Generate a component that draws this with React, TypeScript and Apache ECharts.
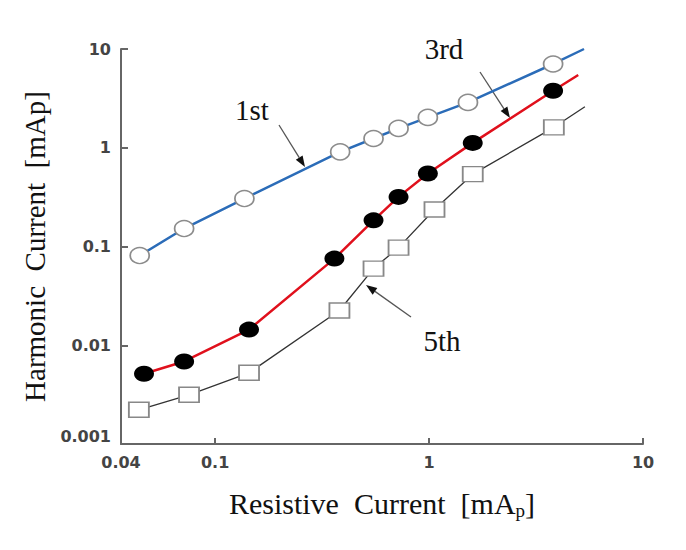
import React, { useEffect, useRef } from 'react';
import * as echarts from 'echarts';

// values
const x1st = [0.0444, 0.0716, 0.137, 0.384, 0.55, 0.72, 0.987, 1.52, 3.8, 5.3];
const y1st = [0.081, 0.152, 0.306, 0.909, 1.24, 1.57, 2.03, 2.88, 7.05, 10];
const x3rd = [0.0465, 0.0716, 0.144, 0.361, 0.55, 0.72, 0.987, 1.6, 3.8, 4.98];
const y3rd = [0.00514, 0.00685, 0.0144, 0.0754, 0.184, 0.318, 0.549, 1.12, 3.78, 5.45];
const x5th = [0.044, 0.0755, 0.144, 0.381, 0.55, 0.72, 1.06, 1.6, 3.83, 5.35];
const y5th = [0.00222, 0.00315, 0.00526, 0.0225, 0.0597, 0.0975, 0.237, 0.54, 1.61, 2.6];

const xMin = 0.0363;
const xMax = 10;
const yMin = 0.001;
const yMax = 10;

// last point of every curve is just the line end, no marker
const pairs = (xs: number[], ys: number[]) =>
  xs.map((x, i) => (i === xs.length - 1 ? { value: [x, ys[i]], symbol: 'none' } : [x, ys[i]]));

const arrow = (x1: number, y1: number, x2: number, y2: number) => {
  const dx = x2 - x1;
  const dy = y2 - y1;
  const len = Math.hypot(dx, dy);
  const ux = dx / len;
  const uy = dy / len;
  const bx = x2 - ux * 11;
  const by = y2 - uy * 11;
  const px = -uy * 4;
  const py = ux * 4;
  return [
    { type: 'line', shape: { x1, y1, x2: bx, y2: by }, style: { stroke: '#555', lineWidth: 1.3 } },
    {
      type: 'polygon',
      shape: { points: [[x2, y2], [bx + px, by + py], [bx - px, by - py]] },
      style: { fill: '#111' },
    },
  ];
};

const serif = '"Liberation Serif", "Times New Roman", serif';

const App: React.FC = () => {
  const ref = useRef<HTMLDivElement>(null);

  useEffect(() => {
    if (!ref.current) return;
    const chart = echarts.init(ref.current, undefined, { renderer: 'svg' });

    const tickLabel = {
      fontFamily: '"DejaVu Sans", sans-serif',
      fontWeight: 'bold' as const,
      fontSize: 16,
      color: '#444',
    };
    const axisLine = { show: true, lineStyle: { color: '#666', width: 2 } };

    chart.setOption({
      animation: false,
      backgroundColor: '#fff',
      grid: { left: 121, right: 43, top: 49, bottom: 106 },
      xAxis: {
        type: 'log',
        logBase: 10,
        min: xMin,
        max: xMax,
        axisLine,
        axisTick: { show: true, inside: true, length: 6, lineStyle: { color: '#666', width: 2 } },
        splitLine: { show: false },
        minorTick: { show: false },
        axisLabel: {
          ...tickLabel,
          margin: 10,
          showMinLabel: true,
          showMaxLabel: true,
          formatter: (v: number) => (v < 0.05 ? '0.04' : String(+v.toPrecision(3))),
        },
        name: '{n|Resistive\u00a0 Current\u00a0 [mA}{s|p}{n|]}',
        nameLocation: 'middle',
        nameGap: 42,
        nameTextStyle: {
          rich: {
            n: { fontFamily: serif, fontSize: 30, color: '#111', lineHeight: 34 },
            s: { fontFamily: serif, fontSize: 19, color: '#111', lineHeight: 16, verticalAlign: 'bottom' },
          },
        },
      },
      yAxis: {
        type: 'log',
        logBase: 10,
        min: yMin,
        max: yMax,
        axisLine,
        axisTick: { show: true, inside: true, length: 7, lineStyle: { color: '#666', width: 2 } },
        splitLine: { show: false },
        minorTick: { show: false },
        axisLabel: {
          ...tickLabel,
          margin: 10,
          showMinLabel: true,
          showMaxLabel: true,
          verticalAlignMinLabel: 'bottom',
          formatter: (v: number) => String(+v.toPrecision(3)),
        },
        name: 'Harmonic\u00a0 Current\u00a0 [mAp]',
        nameLocation: 'middle',
        nameRotate: 90,
        nameGap: 66,
        nameTextStyle: { fontFamily: serif, fontSize: 29, color: '#111' },
      },
      series: [
        {
          name: '1st',
          type: 'line',
          data: pairs(x1st, y1st),
          symbol: 'circle',
          symbolSize: [19, 16],
          lineStyle: { color: '#2b6cb8', width: 2.5 },
          itemStyle: { color: '#fff', borderColor: '#8c8c8c', borderWidth: 1.6 },
          z: 3,
        },
        {
          name: '3rd',
          type: 'line',
          data: pairs(x3rd, y3rd),
          symbol: 'circle',
          symbolSize: [20, 16],
          lineStyle: { color: '#e0101c', width: 2.5 },
          itemStyle: { color: '#000' },
          z: 2,
        },
        {
          name: '5th',
          type: 'line',
          data: pairs(x5th, y5th),
          symbol: 'rect',
          symbolSize: [20, 15],
          lineStyle: { color: '#333', width: 1.3 },
          itemStyle: { color: '#fff', borderColor: '#888', borderWidth: 1.6 },
          z: 2,
        },
      ],
      graphic: [
        { type: 'text', x: 252, y: 110, style: { text: '1st', font: `29px ${serif}`, fill: '#111', align: 'center', verticalAlign: 'middle' } },
        { type: 'text', x: 444, y: 49, style: { text: '3rd', font: `29px ${serif}`, fill: '#111', align: 'center', verticalAlign: 'middle' } },
        { type: 'text', x: 442, y: 341, style: { text: '5th', font: `29px ${serif}`, fill: '#111', align: 'center', verticalAlign: 'middle' } },
        ...arrow(279, 125, 305, 167),
        ...arrow(480, 72, 510, 118),
        ...arrow(411, 317, 366, 285),
      ],
    });

    return () => chart.dispose();
  }, []);

  return <div ref={ref} style={{ position: 'absolute', left: 0, top: 0, width: 686, height: 550 }} />;
};

export default App;
